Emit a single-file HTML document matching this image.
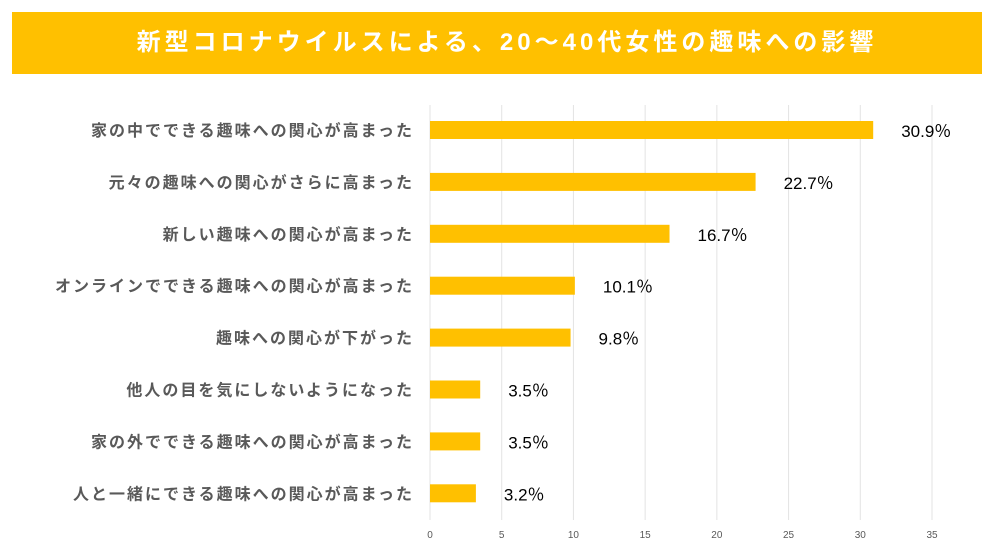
<!DOCTYPE html>
<html><head><meta charset="utf-8"><style>
body{margin:0;background:#fff;width:996px;height:559px;overflow:hidden;font-family:"Liberation Sans","Noto Sans CJK JP",sans-serif}
#banner{position:absolute;left:12px;top:12px;width:950px;padding-left:20px;height:62px;background:#FFC000;color:#fff;font-weight:bold;font-size:24px;line-height:62px;text-align:center;letter-spacing:4px;font-family:"Liberation Sans","Noto Sans CJK JP",sans-serif}
</style></head><body>
<div id="banner">新型コロナウイルスによる、20～40代女性の趣味への影響</div>
<svg id="chart" width="996" height="559" style="position:absolute;left:0;top:0"></svg>
<script>
const categories=["家の中でできる趣味への関心が高まった","元々の趣味への関心がさらに高まった","新しい趣味への関心が高まった","オンラインでできる趣味への関心が高まった","趣味への関心が下がった","他人の目を気にしないようになった","家の外でできる趣味への関心が高まった","人と一緒にできる趣味への関心が高まった"];
const values=[30.9,22.7,16.7,10.1,9.8,3.5,3.5,3.2];
const ticks=[0,5,10,15,20,25,30,35];
const svg=document.getElementById('chart');
const NS='http://www.w3.org/2000/svg';
const x0=430,x35=932,top0=105,rowH=51.9,bottom=520;
const xs=v=>x0+(x35-x0)*v/35;
const yc=i=>130+i*rowH;
function mk(t,a){const e=document.createElementNS(NS,t);for(const k in a)e.setAttribute(k,a[k]);svg.appendChild(e);return e;}
ticks.forEach(t=>{
 const l=mk('line',{x1:xs(t),x2:xs(t),y1:top0,y2:bottom,stroke:'#e3e3e3','stroke-width':1});
 
 
 const tx=mk('text',{x:xs(t),y:538,'text-anchor':'middle','font-size':10,fill:'#595959'});
 tx.textContent=t;
 
 
});
categories.forEach((c,i)=>{
 const lb=mk('text',{x:414,y:yc(i)+6,'text-anchor':'end','font-size':16,'font-weight':'bold',fill:'#595959','letter-spacing':2});
 lb.textContent=c;
 
 
 const b=mk('rect',{x:x0,y:yc(i)-9,width:xs(values[i])-x0,height:18,fill:'#FFC000'});
 
 
 const v=mk('text',{x:xs(values[i])+28,y:yc(i)+7,'font-size':17,fill:'#000'});
 v.textContent=values[i].toFixed(1)+'％';
 
 
});
</script>
</body></html>
